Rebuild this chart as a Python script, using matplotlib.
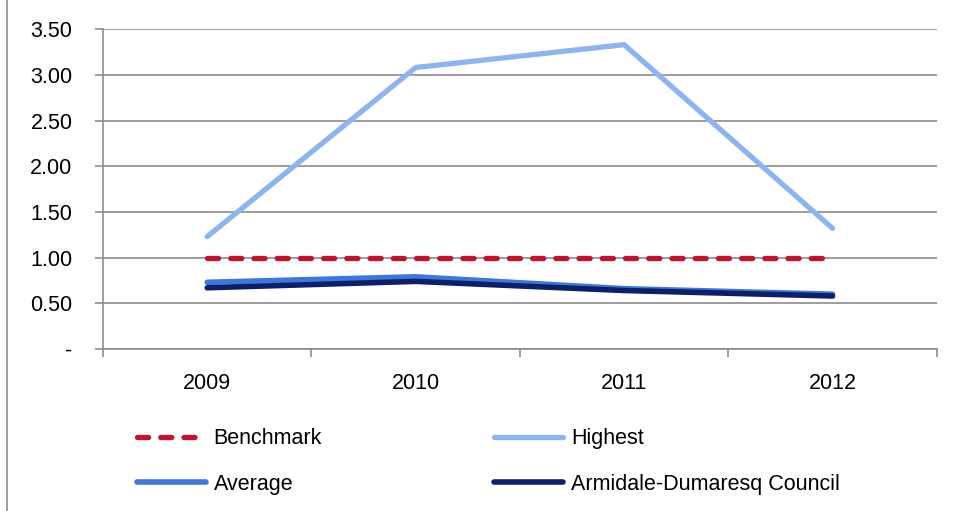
import matplotlib
matplotlib.use("Agg")
import matplotlib.pyplot as plt
from matplotlib.lines import Line2D

plt.rcParams['font.family'] = ['Liberation Sans', 'DejaVu Sans']

# series values per year
years = ['2009', '2010', '2011', '2012']
benchmark = [1.00, 1.00, 1.00, 1.00]
highest = [1.23, 3.08, 3.33, 1.32]
average = [0.73, 0.79, 0.66, 0.60]
council = [0.67, 0.74, 0.64, 0.58]
y_ticks = [0, 0.5, 1.0, 1.5, 2.0, 2.5, 3.0, 3.5]

grid_grey = '#8c8c8c'
fs = 15.5

fig = plt.figure(figsize=(9.57, 5.11), dpi=100)
ax = fig.add_axes([0.1076, 0.317, 0.8713, 0.626])

x = list(range(len(years)))
ax.plot(x, benchmark, color='#c8102e', lw=3.8, dashes=(2.1, 2.3),
        dash_capstyle='round', label='Benchmark', zorder=3)
ax.plot(x, highest, color='#8db4f2', lw=3.8, solid_capstyle='round',
        label='Highest', zorder=3)
ax.plot(x, average, color='#3c78dc', lw=4.0, solid_capstyle='round',
        label='Average', zorder=4)
ax.plot(x, council, color='#0c1f6a', lw=4.0, solid_capstyle='round',
        label='Armidale-Dumaresq Council', zorder=5)

ax.set_xlim(-0.5, len(years) - 0.5)
ax.set_ylim(0, 3.5)

ax.set_yticks(y_ticks)
ax.set_yticklabels(['-' if v == 0 else f'{v:.2f}' for v in y_ticks], fontsize=fs)
ax.yaxis.grid(True, color=grid_grey, lw=1.2)
ax.set_axisbelow(True)

# tick marks sit between categories, labels at category centres
ax.set_xticks([i - 0.5 for i in range(len(years) + 1)])
ax.set_xticklabels([])
ax.set_xticks(x, minor=True)
ax.set_xticklabels(years, minor=True, fontsize=fs)
ax.tick_params(axis='x', which='minor', length=0, pad=17.5)
ax.tick_params(axis='both', which='major', length=6, width=1.2,
               color=grid_grey, direction='out')
ax.tick_params(axis='y', pad=16)

for side in ['top', 'right']:
    ax.spines[side].set_visible(False)
for side in ['left', 'bottom']:
    ax.spines[side].set_color(grid_grey)
    ax.spines[side].set_linewidth(1.2)

# legend in two columns under the plot
h, l = ax.get_legend_handles_labels()
order = [0, 2, 1, 3]
fig.legend([h[i] for i in order], [l[i] for i in order], ncol=2,
           loc='center left', bbox_to_anchor=(0.143, 0.097),
           frameon=False, fontsize=fs, handlelength=3.2, handletextpad=0.37,
           columnspacing=8.0, labelspacing=1.15, borderpad=0, borderaxespad=0)

# chart frame edge on the left
fig.add_artist(Line2D([0.0075, 0.0075], [0, 1], color='#8c8c8c', lw=1.2,
                      transform=fig.transFigure))

fig.savefig('out.png', dpi=100)
